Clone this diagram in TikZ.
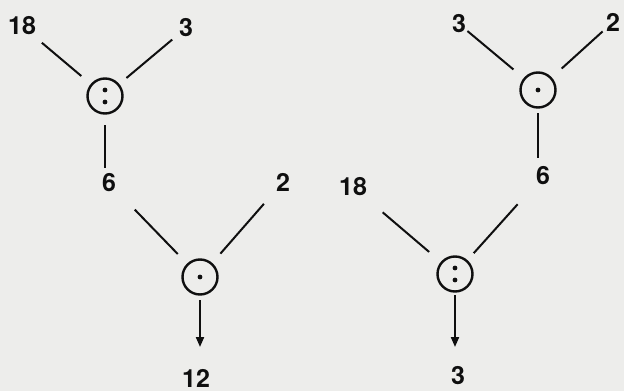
\documentclass[tikz,border=0pt]{standalone}
\usepackage{fontspec}
\setmainfont{TeX Gyre Heros}
\usetikzlibrary{calc,arrows.meta}
\definecolor{paper}{RGB}{237,237,235}
\definecolor{ink}{RGB}{15,15,15}
\newcommand\myseg[4]{\draw[conn] ($(#1.center)!#3pt!(#2.center)$) -- ($(#2.center)!#4pt!(#1.center)$);}
\begin{document}
\begin{tikzpicture}[x=1pt,y=-1pt,
  num/.style={inner sep=0pt,text=ink,font=\fontsize{25}{30}\selectfont\bfseries},
  op/.style={circle,draw=ink,line width=2.4pt,minimum size=35pt,inner sep=0pt},
  conn/.style={draw=ink,line width=2pt},
  arr/.style={conn,-{Triangle[length=10pt,width=8pt]}},
  dot/.style={fill=ink,draw=none}]
\fill[paper] (0,0) rectangle (624,391);
\useasboundingbox (0,0) rectangle (624,391);
% left tree
\node[num] (a18) at (22,26) {18};
\node[num] (a3) at (186,28) {3};
\node[op] (c1) at (105,96) {};
\fill[dot] ($(c1)+(0,-6)$) circle (2.4);
\fill[dot] ($(c1)+(0,6)$) circle (2.4);
\node[num] (a6) at (109,183) {6};
\node[num] (a2) at (283,182) {2};
\node[op] (c2) at (200,277) {};
\fill[dot] (c2) circle (2.4);
\node[num] (a12) at (196,378) {12};
\myseg{a18}{c1}{26}{31}
\myseg{a3}{c1}{18}{28}
\draw[conn] ($(c1)+(0,29)$) -- ($(c1|-a6)+(0,-15)$);
\myseg{a6}{c2}{37}{32}
\myseg{a2}{c2}{29}{31}
\draw[arr] ($(c2)+(0,23)$) -- ($(c2|-a12)+(0,-31)$);
% right tree
\node[num] (b3) at (459,24) {3};
\node[num] (b2) at (613,22) {2};
\node[op] (c3) at (538,90) {};
\fill[dot] (c3) circle (2.4);
\node[num] (b6) at (543,176) {6};
\node[num] (b18) at (353,187) {18};
\node[op] (c4) at (455,274) {};
\fill[dot] ($(c4)+(0,-6)$) circle (2.4);
\fill[dot] ($(c4)+(0,6)$) circle (2.4);
\node[num] (b3r) at (458,376) {3};
\myseg{b3}{c3}{11}{32}
\myseg{b2}{c3}{14}{32}
\draw[conn] ($(c3)+(0,23)$) -- ($(c3|-b6)+(0,-18)$);
\myseg{b18}{c4}{39}{34}
\myseg{b6}{c4}{38}{28}
\draw[arr] ($(c4)+(0,21)$) -- ($(c4|-b3r)+(0,-29)$);
\end{tikzpicture}
\end{document}
